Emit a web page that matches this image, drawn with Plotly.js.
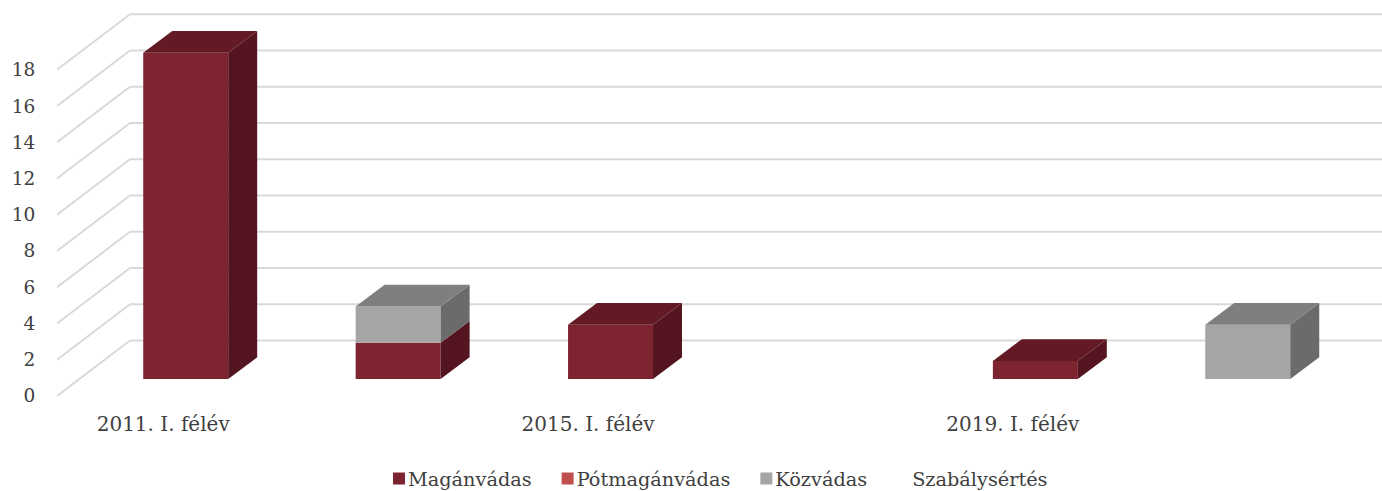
<!DOCTYPE html>
<html>
<head>
<meta charset="utf-8">
<script src="https://cdn.plot.ly/plotly-3.0.1.min.js"></script>
<style>html,body{margin:0;padding:0;background:#fff}#c{width:1382px;height:491px}</style>
</head>
<body>
<div id="c"></div>
<script>
var categories = ["2011. I. félév", "", "2015. I. félév", "", "2019. I. félév", ""];
var maganvadas = [18, 2, 3, 0, 1, 0];
var potmaganvadas = [0, 0, 0, 0, 0, 0];
var kozvadas = [0, 2, 0, 0, 0, 3];
var szabalysertes = [0, 0, 0, 0, 0, 0];
var valueTicks = [0, 2, 4, 6, 8, 10, 12, 14, 16, 18];

var seriesNames = ["Magánvádas", "Pótmagánvádas", "Közvádas", "Szabálysértés"];
var seriesValues = [maganvadas, potmaganvadas, kozvadas, szabalysertes];
var frontColors = ["#7E2330", "#C0504D", "#A5A5A5", "rgba(255,255,255,0)"];
var sideColors = ["#541520", "#8A3230", "#6B6B6B", "rgba(255,255,255,0)"];
var topColors = ["#631A25", "#9A3C3A", "#7F7F7F", "rgba(255,255,255,0)"];

// oblique projection expressed in axis units
var wallDx = 0.3437, wallDy = 3.063;   // depth of the walls
var barDx = 0.1365, barDy = 1.2;       // depth of a bar
var floorDx = 0.106, floorDy = 0.936;  // how far a bar sits behind the front edge
var barWidth = 0.4, xMin = -0.5, xMax = 5.738, yMax = 21.85;

var font = "DejaVu Serif, Georgia, serif";
var textColor = "#404040";

var traces = [], overlays = [], shapes = [];

valueTicks.forEach(function (v) {
  var line = {color: "#d9d9d9", width: 2};
  shapes.push({type: "line", layer: "below", xref: "x", yref: "y", x0: xMin, y0: v,
    x1: xMin + wallDx, y1: v + wallDy, line: line});
  shapes.push({type: "line", layer: "below", xref: "x", yref: "y", x0: xMin + wallDx, y0: v + wallDy,
    x1: xMax, y1: v + wallDy, line: line});
});

var idx = categories.map(function (_, i) { return i; });
var stack = idx.map(function () { return 0; });

seriesNames.forEach(function (name, s) {
  var vals = seriesValues[s];
  traces.push({
    type: "bar", name: name,
    x: idx.map(function (i) { return i + floorDx; }),
    y: vals,
    base: stack.map(function (b) { return b + floorDy; }),
    width: barWidth,
    marker: {color: frontColors[s], line: {width: 0}},
    hoverinfo: "skip"
  });
  idx.forEach(function (i) {
    var v = vals[i];
    if (v <= 0) return;
    var b = stack[i] + floorDy, t = b + v;
    var xl = i + floorDx - barWidth / 2, xr = xl + barWidth;
    overlays.push({
      type: "scatter", mode: "lines", showlegend: false, hoverinfo: "skip",
      x: [xr, xr + barDx, xr + barDx, xr, xr],
      y: [b, b + barDy, t + barDy, t, b],
      fill: "toself", fillcolor: sideColors[s], line: {width: 0}
    });
    var above = seriesValues.slice(s + 1).some(function (o) { return o[i] > 0; });
    if (!above) {
      overlays.push({
        type: "scatter", mode: "lines", showlegend: false, hoverinfo: "skip",
        x: [xl, xl + barDx, xr + barDx, xr, xl],
        y: [t, t + barDy, t + barDy, t, t],
        fill: "toself", fillcolor: topColors[s], line: {width: 0}
      });
    }
    stack[i] += v;
  });
});

var layout = {
  width: 1382, height: 491,
  margin: {l: 0, r: 0, t: 0, b: 0, pad: 0, autoexpand: false},
  paper_bgcolor: "#fff", plot_bgcolor: "rgba(0,0,0,0)",
  barmode: "overlay",
  showlegend: true,
  font: {family: font, color: textColor, size: 19},
  xaxis: {domain: [57 / 1382, 1], range: [xMin, xMax], showgrid: false, zeroline: false, showline: false,
    tickmode: "array", tickvals: idx, ticktext: categories,
    ticks: "outside", ticklen: 10, tickcolor: "rgba(0,0,0,0)", tickangle: 0,
    tickfont: {family: font, size: 20, color: textColor}},
  yaxis: {domain: [95 / 491, 1], range: [0, yMax], showgrid: false, zeroline: false, showline: false,
    tickmode: "array", tickvals: valueTicks,
    ticks: "outside", ticklen: 17, tickcolor: "rgba(0,0,0,0)",
    tickfont: {family: font, size: 18.5, color: textColor}},
  legend: {orientation: "h", x: 368 / 1382, xanchor: "left", y: 12 / 491, yanchor: "middle",
    font: {family: font, size: 19.3, color: textColor}, traceorder: "normal",
    itemclick: false, itemdoubleclick: false},
  shapes: shapes
};

Plotly.newPlot("c", traces.concat(overlays), layout, {displayModeBar: false, staticPlot: true}).then(function () {
  // the reference keeps each legend key right next to its label
  document.querySelectorAll("#c .legend .legendpoints").forEach(function (el) {
    el.setAttribute("transform", (el.getAttribute("transform") || "") + " translate(11,0)");
  });
});
</script>
</body>
</html>
